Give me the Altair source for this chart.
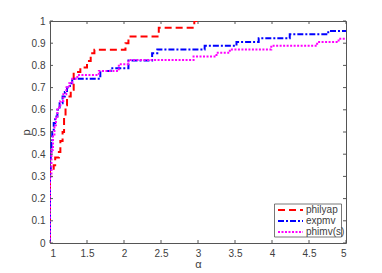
import altair as alt
import pandas as pd

# ---- data ----
alpha_red = [1.0, 1.0, 1.05, 1.07, 1.12, 1.14, 1.17, 1.19, 1.21, 1.23, 1.28, 1.32, 1.41, 1.5, 1.55, 1.6, 2.02, 2.06, 2.47, 2.95, 3.0]
p_red = [0.0, 0.33, 0.35, 0.385, 0.41, 0.46, 0.5, 0.57, 0.62, 0.66, 0.69, 0.77, 0.79, 0.82, 0.855, 0.87, 0.9, 0.93, 0.97, 1.0, 1.0]

alpha_blue = [1.0, 1.0, 1.01, 1.02, 1.03, 1.05, 1.07, 1.1, 1.13, 1.17, 1.2, 1.23, 1.27, 1.3, 1.68, 1.82, 2.06, 2.38, 2.45, 3.09, 3.52, 3.82, 4.24, 4.76, 5.0]
p_blue = [0.0, 0.33, 0.4, 0.45, 0.5, 0.54, 0.57, 0.6, 0.63, 0.66, 0.68, 0.7, 0.72, 0.74, 0.775, 0.787, 0.822, 0.855, 0.872, 0.888, 0.905, 0.922, 0.94, 0.955, 0.955]

alpha_mag = [1.0, 1.0, 1.02, 1.04, 1.06, 1.08, 1.1, 1.14, 1.18, 1.22, 1.26, 1.3, 1.37, 1.66, 1.93, 2.06, 2.94, 3.25, 3.43, 3.99, 4.61, 4.9, 5.0]
p_mag = [0.0, 0.3, 0.42, 0.48, 0.53, 0.57, 0.61, 0.64, 0.67, 0.7, 0.72, 0.74, 0.757, 0.775, 0.805, 0.824, 0.84, 0.857, 0.872, 0.889, 0.905, 0.92, 0.92]

series_names = ["philyap", "expmv", "phimv(s)"]
series_colors = ["#ff0000", "#0000ff", "#ff00ff"]
series_dash = [[7, 4], [6, 2, 2, 2], [2, 1.5]]

x_ticks = [1, 1.5, 2, 2.5, 3, 3.5, 4, 4.5, 5]
y_ticks = [0, 0.1, 0.2, 0.3, 0.4, 0.5, 0.6, 0.7, 0.8, 0.9, 1]

W, H = 296, 222
AX = "#555555"
TXT = "#404040"
FONT = "Liberation Sans"

xs = alt.Scale(domain=[1, 5], nice=False, zero=False)
ys = alt.Scale(domain=[0, 1], nice=False)

X_AXIS = alt.Axis(values=x_ticks, format="~g", ticks=False, domain=False, grid=False,
                  labelPadding=5, title="α", titlePadding=0,
                  labelFont=FONT, labelFontSize=10, labelColor=TXT,
                  titleFont=FONT, titleFontSize=11, titleColor=TXT, titleFontWeight="normal")
Y_AXIS = alt.Axis(values=y_ticks, format="~g", ticks=False, domain=False, grid=False,
                  labelPadding=5, title="p", titlePadding=0,
                  labelFont=FONT, labelFontSize=10, labelColor=TXT,
                  titleFont=FONT, titleFontSize=11, titleColor=TXT, titleFontWeight="normal")

def X(f):
    return alt.X(f, scale=xs, axis=X_AXIS)

def Y(f):
    return alt.Y(f, scale=ys, axis=Y_AXIS)

def series_layer(a, p, i):
    df = pd.DataFrame({"alpha": a, "p": p})
    return alt.Chart(df).mark_line(
        interpolate="step-after", color=series_colors[i], strokeWidth=2,
        strokeDash=series_dash[i], clip=True
    ).encode(x=X("alpha:Q"), y=Y("p:Q"))

xt = pd.DataFrame({"v": x_ticks})
yt = pd.DataFrame({"v": y_ticks})
tick_b = alt.Chart(xt).mark_rule(color=AX, strokeWidth=1).encode(x=X("v:Q"), y=alt.value(H), y2=alt.value(H - 3))
tick_t = alt.Chart(xt).mark_rule(color=AX, strokeWidth=1).encode(x=X("v:Q"), y=alt.value(0), y2=alt.value(3))
tick_l = alt.Chart(yt).mark_rule(color=AX, strokeWidth=1).encode(y=Y("v:Q"), x=alt.value(0), x2=alt.value(3))
tick_r = alt.Chart(yt).mark_rule(color=AX, strokeWidth=1).encode(y=Y("v:Q"), x=alt.value(W), x2=alt.value(W - 3))

# ---- manual legend ----
lx0, lx1, ly0, ly1 = 224.5, 291.5, 183, 216
leg_box = alt.Chart(pd.DataFrame({"a": [0]})).mark_rect(fill="white", stroke=AX, strokeWidth=0.8).encode(
    x=alt.value(lx0), x2=alt.value(lx1), y=alt.value(ly0), y2=alt.value(ly1))
leg_layers = []
for i, name in enumerate(series_names):
    yy = 189 + 11 * i
    leg_layers.append(
        alt.Chart(pd.DataFrame({"a": [0]})).mark_rule(color=series_colors[i], strokeWidth=2, strokeDash=series_dash[i]).encode(
            x=alt.value(228), x2=alt.value(253), y=alt.value(yy)))
    leg_layers.append(
        alt.Chart(pd.DataFrame({"t": [name]})).mark_text(align="left", baseline="middle", font=FONT, fontSize=10, color=TXT).encode(
            x=alt.value(256), y=alt.value(yy), text="t:N"))

chart = alt.layer(
    series_layer(alpha_red, p_red, 0),
    series_layer(alpha_blue, p_blue, 1),
    series_layer(alpha_mag, p_mag, 2),
    tick_b, tick_t, tick_l, tick_r,
    leg_box, *leg_layers,
).properties(
    width=W, height=H,
    autosize=alt.AutoSizeParams(type="none"),
    padding={"left": 42, "top": 13, "right": 20, "bottom": 34},
    background="white",
).configure_view(stroke=AX, strokeWidth=1)

chart.save("out.html", embed_options={"renderer": "svg", "actions": False})
